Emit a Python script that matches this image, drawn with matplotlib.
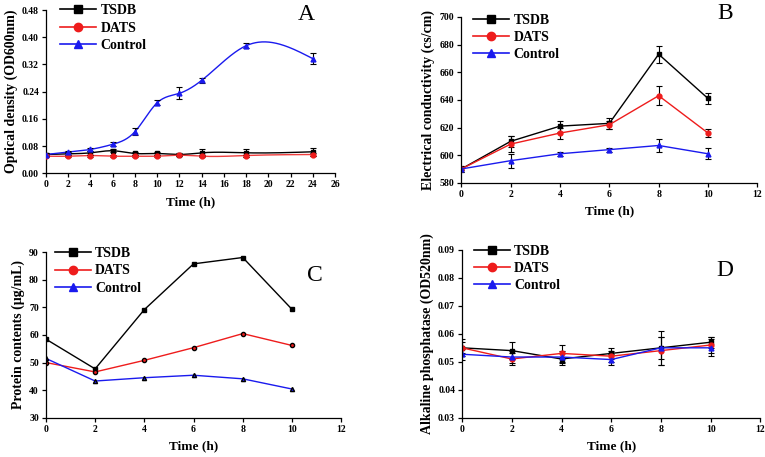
import numpy as np
import matplotlib
matplotlib.use("Agg")
import matplotlib.pyplot as plt

# ---- data ----
time_a = [0, 2, 4, 6, 8, 10, 12, 14, 18, 24]
a_tsdb = [0.055, 0.057, 0.060, 0.066, 0.058, 0.058, 0.055, 0.060, 0.060, 0.063]
a_tsdb_err = [0.004, 0.004, 0.005, 0.004, 0.004, 0.003, 0.005, 0.010, 0.012, 0.012]
a_dats = [0.050, 0.050, 0.052, 0.050, 0.050, 0.050, 0.053, 0.050, 0.052, 0.055]
a_dats_err = [0.003, 0.003, 0.003, 0.003, 0.003, 0.003, 0.003, 0.003, 0.003, 0.003]
a_ctrl = [0.055, 0.062, 0.070, 0.085, 0.122, 0.207, 0.235, 0.273, 0.375, 0.337]
a_ctrl_err = [0.003, 0.004, 0.005, 0.006, 0.010, 0.007, 0.018, 0.008, 0.008, 0.017]

time_b = [0, 2, 4, 6, 8, 10]
b_tsdb = [590, 610, 621, 623, 673, 641]
b_tsdb_err = [2, 4, 4, 4, 6, 4]
b_dats = [590, 608, 616, 622, 643, 616]
b_dats_err = [2, 6, 4, 3, 7, 3]
b_ctrl = [590, 596, 601, 604, 607, 601]
b_ctrl_err = [1, 5, 1.5, 1.5, 5, 4]

time_c = [0, 2, 4, 6, 8, 10]
c_tsdb = [58.5, 47.7, 69.2, 85.8, 88.1, 69.3]
c_dats = [50.0, 46.6, 50.8, 55.4, 60.5, 56.2]
c_ctrl = [51.5, 43.3, 44.5, 45.4, 44.1, 40.4]

time_d = [0, 2, 4, 6, 8, 10]
d_tsdb = [0.055, 0.054, 0.051, 0.053, 0.055, 0.057]
d_tsdb_err = [0.002, 0.003, 0.002, 0.002, 0.006, 0.002]
d_dats = [0.055, 0.051, 0.053, 0.052, 0.054, 0.056]
d_dats_err = [0.003, 0.002, 0.003, 0.002, 0.005, 0.003]
d_ctrl = [0.0527, 0.0517, 0.0517, 0.0508, 0.055, 0.055]
d_ctrl_err = [0.002, 0.002, 0.002, 0.002, 0.004, 0.003]

SERIES = ("TSDB", "DATS", "Control")
COLORS = {"TSDB": "black", "DATS": "#ee1c1c", "Control": "#1a1aee"}
MARKERS = {"TSDB": "s", "DATS": "o", "Control": "^"}

plt.rcParams["font.family"] = ["Liberation Serif", "DejaVu Serif"]
plt.rcParams["font.weight"] = "bold"


def natural_spline(x, y, n=300):
    # smooth connecting line (Origin "spline" style) through the data points
    x = np.asarray(x, float); y = np.asarray(y, float)
    k = len(x); h = np.diff(x)
    A = np.zeros((k, k)); r = np.zeros(k)
    A[0, 0] = A[-1, -1] = 1
    for i in range(1, k - 1):
        A[i, i - 1] = h[i - 1]; A[i, i] = 2 * (h[i - 1] + h[i]); A[i, i + 1] = h[i]
        r[i] = 6 * ((y[i + 1] - y[i]) / h[i] - (y[i] - y[i - 1]) / h[i - 1])
    m = np.linalg.solve(A, r)
    xs = np.linspace(x[0], x[-1], n)
    idx = np.clip(np.searchsorted(x, xs) - 1, 0, k - 2)
    x0, x1 = x[idx], x[idx + 1]; hh = x1 - x0
    t0, t1 = x1 - xs, xs - x0
    ys = (m[idx] * t0 ** 3 + m[idx + 1] * t1 ** 3) / (6 * hh) \
        + (y[idx] / hh - m[idx] * hh / 6) * t0 + (y[idx + 1] / hh - m[idx + 1] * hh / 6) * t1
    return xs, ys


def style(ax, xlim, xticks, ylim, yticks, yfmt, ylabel, letter, lpos):
    ax.set_xlim(*xlim); ax.set_ylim(*ylim)
    ax.set_xticks(xticks); ax.set_yticks(yticks)
    ax.yaxis.set_major_formatter(matplotlib.ticker.FormatStrFormatter(yfmt))
    for s in ("top", "right"):
        ax.spines[s].set_visible(False)
    for s in ("left", "bottom"):
        ax.spines[s].set_linewidth(0.9)
    ax.tick_params(direction="out", length=3, width=0.9, labelsize=7, pad=2)
    for lab in ax.get_xticklabels() + ax.get_yticklabels():
        lab.set_fontweight("bold")
    ax.set_xlabel("Time (h)", fontsize=9.5, fontweight="bold", labelpad=5)
    ax.set_ylabel(ylabel, fontsize=10, fontweight="bold", labelpad=3)
    ax.text(lpos[0], lpos[1], letter, transform=ax.transAxes, fontsize=17,
            fontweight="normal", ha="center", va="center")


def legend(ax, anchor):
    handles = [plt.Line2D([], [], color=COLORS[n], marker=MARKERS[n], ms=6, lw=1.2)
               for n in SERIES]
    ax.legend(handles, SERIES, loc="upper left", bbox_to_anchor=anchor, frameon=False,
              prop={"family": "Liberation Serif", "weight": "bold", "size": 10},
              handlelength=2.6, handletextpad=0.3, labelspacing=0.3, borderpad=0,
              borderaxespad=0)


fig = plt.figure(figsize=(7.65, 4.57), dpi=100)
axA = fig.add_axes([0.060, 0.621, 0.378, 0.357])
axB = fig.add_axes([0.603, 0.600, 0.387, 0.363])
axC = fig.add_axes([0.060, 0.086, 0.386, 0.362])
axD = fig.add_axes([0.604, 0.086, 0.390, 0.367])

# A: smoothed lines with error bars
for n, y, e in (("TSDB", a_tsdb, a_tsdb_err), ("DATS", a_dats, a_dats_err),
                ("Control", a_ctrl, a_ctrl_err)):
    xs, ys = natural_spline(time_a, y)
    axA.plot(xs, ys, color=COLORS[n], lw=1.0, alpha=0.85 if n == "DATS" else 1, zorder=2)
    axA.errorbar(time_a, y, yerr=e, fmt=MARKERS[n], ms=3.5, color=COLORS[n],
                 ecolor="black", elinewidth=0.8, capsize=2, capthick=0.8, zorder=3)
style(axA, (0, 26), range(0, 27, 2), (0, 0.48), np.arange(0, 0.49, 0.08), "%.2f",
      "Optical density (OD600nm)", "A", (0.90, 0.97))
legend(axA, (0.05, 1.035))

# B
for n, y, e in (("TSDB", b_tsdb, b_tsdb_err), ("DATS", b_dats, b_dats_err),
                ("Control", b_ctrl, b_ctrl_err)):
    axB.errorbar(time_b, y, yerr=e, marker=MARKERS[n], ms=3.5, color=COLORS[n], lw=1.0,
                 ecolor="black", elinewidth=0.8, capsize=2, capthick=0.8)
style(axB, (0, 12), range(0, 13, 2), (580, 700), range(580, 701, 20), "%d",
      "Electrical conductivity (cs/cm)", "B", (0.89, 1.02))
legend(axB, (0.04, 1.02))

# C: no error bars
for n, y in (("TSDB", c_tsdb), ("DATS", c_dats), ("Control", c_ctrl)):
    axC.plot(time_c, y, marker=MARKERS[n], ms=3, color=COLORS[n], lw=1.0, mec="black")
style(axC, (0, 12), range(0, 13, 2), (30, 90), range(30, 91, 10), "%d",
      "Protein contents (μg/mL)", "C", (0.91, 0.86))
legend(axC, (0.03, 1.03))

# D
for n, y, e in (("TSDB", d_tsdb, d_tsdb_err), ("DATS", d_dats, d_dats_err),
                ("Control", d_ctrl, d_ctrl_err)):
    axD.errorbar(time_d, y, yerr=e, marker=MARKERS[n], ms=3.5, color=COLORS[n], lw=1.0,
                 ecolor="black", elinewidth=0.8, capsize=2, capthick=0.8)
style(axD, (0, 12), range(0, 13, 2), (0.03, 0.09), np.arange(0.03, 0.0901, 0.01), "%.2f",
      "Alkaline phosphatase (OD520nm)", "D", (0.88, 0.88))
legend(axD, (0.04, 1.03))

fig.savefig("out.png", dpi=100)
